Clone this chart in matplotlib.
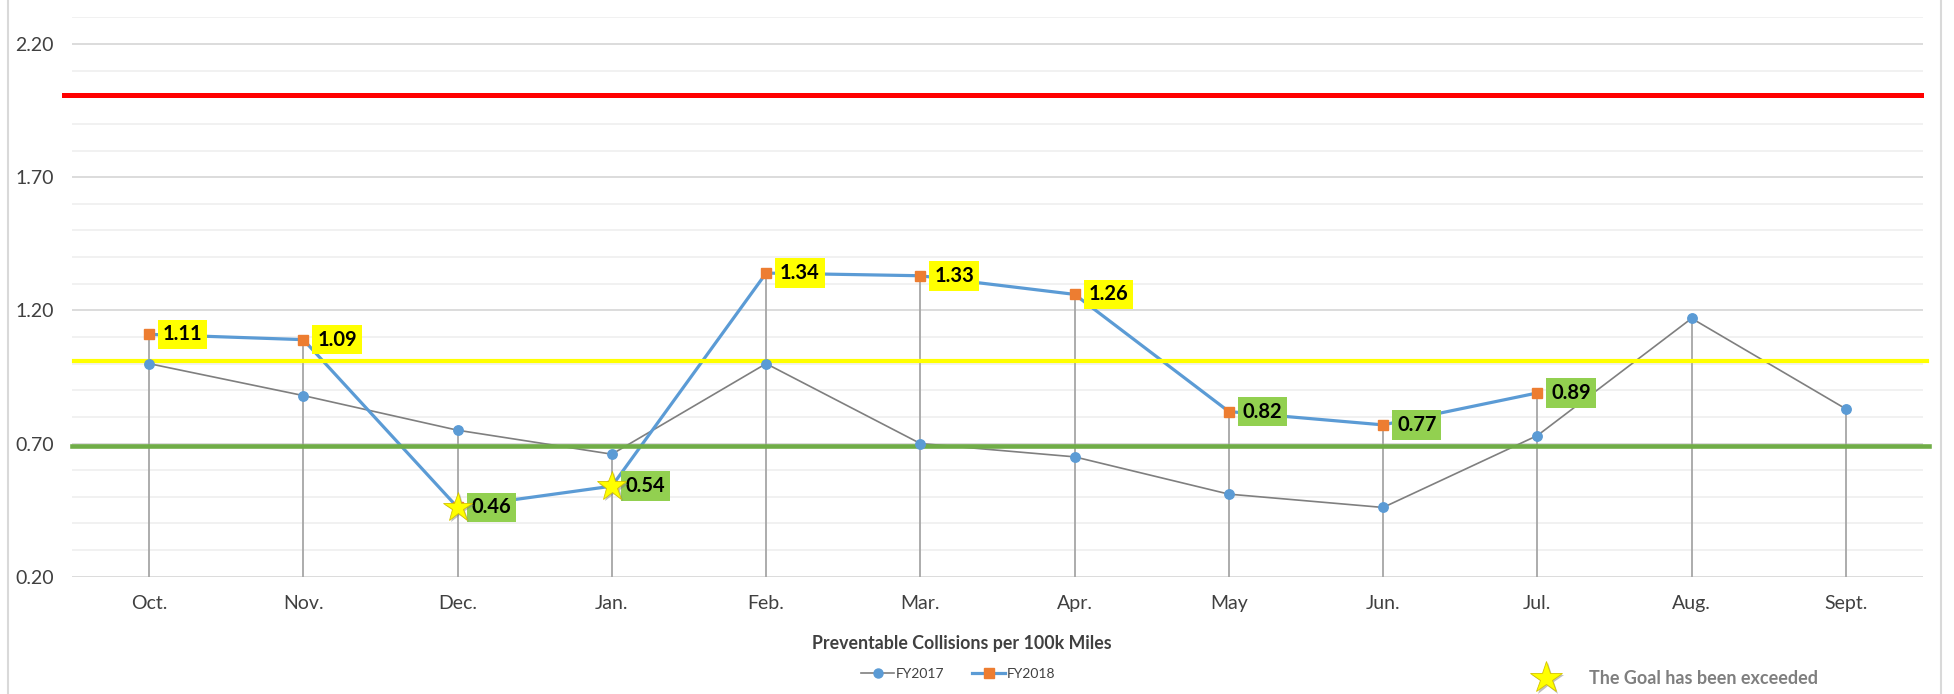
import matplotlib
matplotlib.use("Agg")
import matplotlib.pyplot as plt
import matplotlib.patheffects as pe
from matplotlib.lines import Line2D
import numpy as np

plt.rcParams['font.family'] = ['Lato', 'DejaVu Sans']

# Monthly data (fiscal year Oct-Sept)
months = ["Oct.", "Nov.", "Dec.", "Jan.", "Feb.", "Mar.", "Apr.", "May", "Jun.", "Jul.", "Aug.", "Sept."]
fy2017 = [1.00, 0.88, 0.75, 0.66, 1.00, 0.70, 0.65, 0.51, 0.46, 0.73, 1.17, 0.83]
fy2018 = [1.11, 1.09, 0.46, 0.54, 1.34, 1.33, 1.26, 0.82, 0.77, 0.89]

# Reference levels
upper_limit = 2.01   # red
threshold = 1.01     # yellow
goal = 0.69          # green

y_ticks = [0.20, 0.70, 1.20, 1.70, 2.20]

W, H = 1954, 694
fig = plt.figure(figsize=(W / 100, H / 100), dpi=100)
fig.patch.set_facecolor("white")

left_px, right_px, bottom_px, top_px = 72, 1923, 576.7, 17.4
ax = fig.add_axes([left_px / W, 1 - bottom_px / H, (right_px - left_px) / W, (bottom_px - top_px) / H])

x17 = np.arange(len(fy2017))
x18 = np.arange(len(fy2018))

ax.set_xlim(-0.5, len(months) - 0.5)
ax.set_ylim(0.2, 2.3)

# Grid: minor every 0.1, major every 0.5
for v in np.arange(0.2, 2.31, 0.1):
    is_major = any(abs(v - t) < 1e-6 for t in y_ticks)
    ax.axhline(v, color="#D9D9D9" if is_major else "#F0F0F0", lw=1.3, zorder=0)

for s in ax.spines.values():
    s.set_visible(False)

ax.set_yticks(y_ticks)
ax.set_yticklabels([f"{t:.2f}" for t in y_ticks])
ax.set_xticks(x17)
ax.set_xticklabels(months)
ax.tick_params(axis="both", length=0, labelsize=14, labelcolor="#404040")
ax.tick_params(axis="y", pad=13)
ax.tick_params(axis="x", pad=13)

# Drop lines from the highest point of each month down to the axis
tops = [max(fy2017[i], fy2018[i]) if i < len(fy2018) else fy2017[i] for i in range(len(fy2017))]
ax.vlines(x17, 0.2, tops, color="#A6A6A6", lw=1.3, zorder=1)

# Series
ax.plot(x17, fy2017, color="#7F7F7F", lw=1.2, zorder=3)
ax.plot(x17, fy2017, ls="none", marker="o", ms=6.8, mfc="#5B9BD5", mec="#5B9BD5", zorder=6)
ax.plot(x18, fy2018, color="#5B9BD5", lw=2.3, zorder=3)
ax.plot(x18, fy2018, ls="none", marker="s", ms=7, mfc="#ED7D31", mec="#ED7D31", zorder=6)

# Reference lines
span = right_px - left_px
ax.axhline(upper_limit, xmin=-8 / span, xmax=(1921 - left_px) / span, color="#FF0000", lw=3.6, zorder=4, clip_on=False)
ax.axhline(threshold, xmin=2 / span, xmax=(1927 - left_px) / span, color="#FFFF00", lw=3.0, zorder=4, clip_on=False)
ax.axhline(goal, xmin=0, xmax=(1929 - left_px) / span, color="#70AD47", lw=3.3, zorder=4, clip_on=False)

# Value labels for FY2018
for xi, v in zip(x18, fy2018):
    bg = "#FFFF00" if v > threshold else "#92D050"
    ax.annotate(f"{v:.2f}", (xi, v), xytext=(10, 0), textcoords="offset points",
                ha="left", va="center", fontsize=14.5, fontweight="bold", color="black",
                bbox=dict(boxstyle="square,pad=0.24", fc=bg, ec="none"), zorder=8)

# Stars where the goal was exceeded
shadow = [pe.SimplePatchShadow(offset=(1.5, -1.5), shadow_rgbFace="#808080", alpha=0.5), pe.Normal()]
for xi, v in zip(x18, fy2018):
    if v < goal:
        ax.plot([xi], [v], marker="*", ms=22, mfc="#FFFF00", mec="#D4C400", mew=0.6,
                ls="none", zorder=9, path_effects=shadow)

# Title beneath the chart
fig.text(962 / W, 1 - 643 / H, "Preventable Collisions per 100k Miles", ha="center", va="center",
         fontsize=12.8, fontweight="bold", color="#404040")

# Legend
h17 = Line2D([], [], color="#7F7F7F", lw=1.2, marker="o", ms=6.5, mfc="#5B9BD5", mec="#5B9BD5")
h18 = Line2D([], [], color="#5B9BD5", lw=2.3, marker="s", ms=6.5, mfc="#ED7D31", mec="#ED7D31")
fig.legend([h17, h18], ["FY2017", "FY2018"], loc="center", bbox_to_anchor=(958 / W, 1 - 674 / H),
           ncol=2, frameon=False, fontsize=10, handlelength=2.4, handletextpad=0.1,
           columnspacing=2.0, labelcolor="#404040")

# Star key
fig.add_artist(Line2D([1546 / W], [1 - 678 / H], marker="*", ms=24, mfc="#FFFF00", mec="#D4C400",
                      mew=0.6, ls="none", transform=fig.transFigure, path_effects=shadow))
fig.text(1589 / W, 1 - 679 / H, "The Goal has been exceeded", ha="left", va="center",
         fontsize=13, fontweight="bold", color="#7F7F7F")

# Chart frame sides
for xp in (8, 1941):
    fig.add_artist(Line2D([xp / W, xp / W], [0, 1], color="#D9D9D9", lw=1.5, transform=fig.transFigure))

fig.savefig("out.png", dpi=100, facecolor="white")
